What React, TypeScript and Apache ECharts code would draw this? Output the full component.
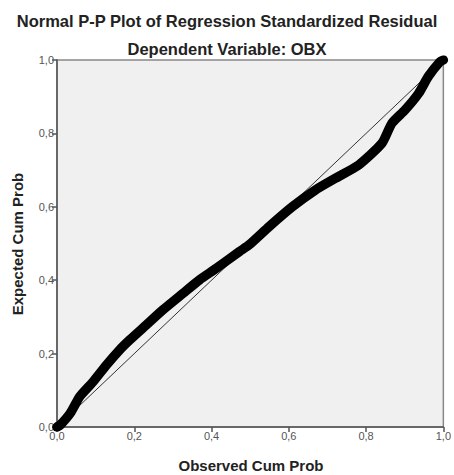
import React, { useEffect, useRef } from "react";
import * as echarts from "echarts";

const observedCumProb = [0, 0.008, 0.034, 0.059, 0.094, 0.128, 0.162, 0.188, 0.231, 0.274, 0.326, 0.369, 0.412, 0.472, 0.497, 0.549, 0.609, 0.669, 0.721, 0.781, 0.841, 0.867, 0.901, 0.936, 0.961, 0.991, 1.0];
const expectedCumProb = [0, 0.005, 0.037, 0.083, 0.124, 0.169, 0.21, 0.237, 0.278, 0.319, 0.364, 0.401, 0.432, 0.478, 0.496, 0.546, 0.6, 0.646, 0.678, 0.714, 0.773, 0.828, 0.864, 0.909, 0.955, 0.995, 1.0];
const referenceX = [0, 1];
const referenceY = [0, 1];

const titleText = "Normal P-P Plot of Regression Standardized Residual";
const subtitleText = "Dependent Variable: OBX";
const xAxisTitle = "Observed Cum Prob";
const yAxisTitle = "Expected Cum Prob";

const FONT = "'Liberation Sans', Arial, sans-serif";

export default function App() {
  const ref = useRef<HTMLDivElement>(null);
  useEffect(() => {
    if (!ref.current) return;
    const chart = echarts.init(ref.current, null, { renderer: "svg" });
    const fmt = (v: number) => v.toFixed(1).replace(".", ",");
    const axisCommon = {
      type: "value",
      min: 0,
      max: 1,
      interval: 0.2,
      axisLine: { show: true, onZero: false, lineStyle: { color: "#555", width: 1.5 } },
      axisTick: { show: true, length: 5, lineStyle: { color: "#555", width: 1.5 } },
      splitLine: { show: false },
      axisLabel: {
        formatter: (v: number) => fmt(v),
        color: "#555",
        fontSize: 11,
        fontFamily: FONT,
        margin: 3,
        showMinLabel: true,
        showMaxLabel: true,
      },
    };
    chart.setOption({
      animation: false,
      backgroundColor: "#ffffff",
      title: [
        {
          text: titleText,
          left: "center",
          top: 7,
          textStyle: { fontSize: 16.5, fontWeight: "bold", color: "#222", fontFamily: FONT },
        },
        {
          text: subtitleText,
          left: "center",
          top: 35,
          textStyle: { fontSize: 16.5, fontWeight: "bold", color: "#222", fontFamily: FONT },
        },
      ],
      grid: {
        left: 57,
        right: 9,
        top: 60,
        bottom: 48,
        show: true,
        backgroundColor: "#f0f0f0",
        borderColor: "#888",
        borderWidth: 1.5,
      },
      xAxis: { ...axisCommon },
      yAxis: { ...axisCommon },
      graphic: [
        {
          type: "text",
          x: 251,
          y: 465,
          style: {
            text: xAxisTitle,
            fill: "#222",
            font: `bold 15px ${FONT}`,
            align: "center",
            verticalAlign: "middle",
          },
        },
        {
          type: "text",
          x: 17,
          y: 244,
          rotation: Math.PI / 2,
          style: {
            text: yAxisTitle,
            fill: "#222",
            font: `bold 15px ${FONT}`,
            align: "center",
            verticalAlign: "middle",
          },
        },
      ],
      series: [
        {
          type: "line",
          data: referenceX.map((x, i) => [x, referenceY[i]]),
          symbol: "none",
          lineStyle: { color: "#333", width: 1 },
          z: 2,
        },
        {
          type: "line",
          data: observedCumProb.map((x, i) => [x, expectedCumProb[i]]),
          symbol: "none",
          smooth: 0.2,
          lineStyle: { color: "#000", width: 9.5, cap: "round", join: "round" },
          z: 3,
        },
      ],
    });
    return () => chart.dispose();
  }, []);
  return (
    <div
      ref={ref}
      style={{ position: "absolute", left: 0, top: 0, width: 454, height: 475 }}
    />
  );
}
